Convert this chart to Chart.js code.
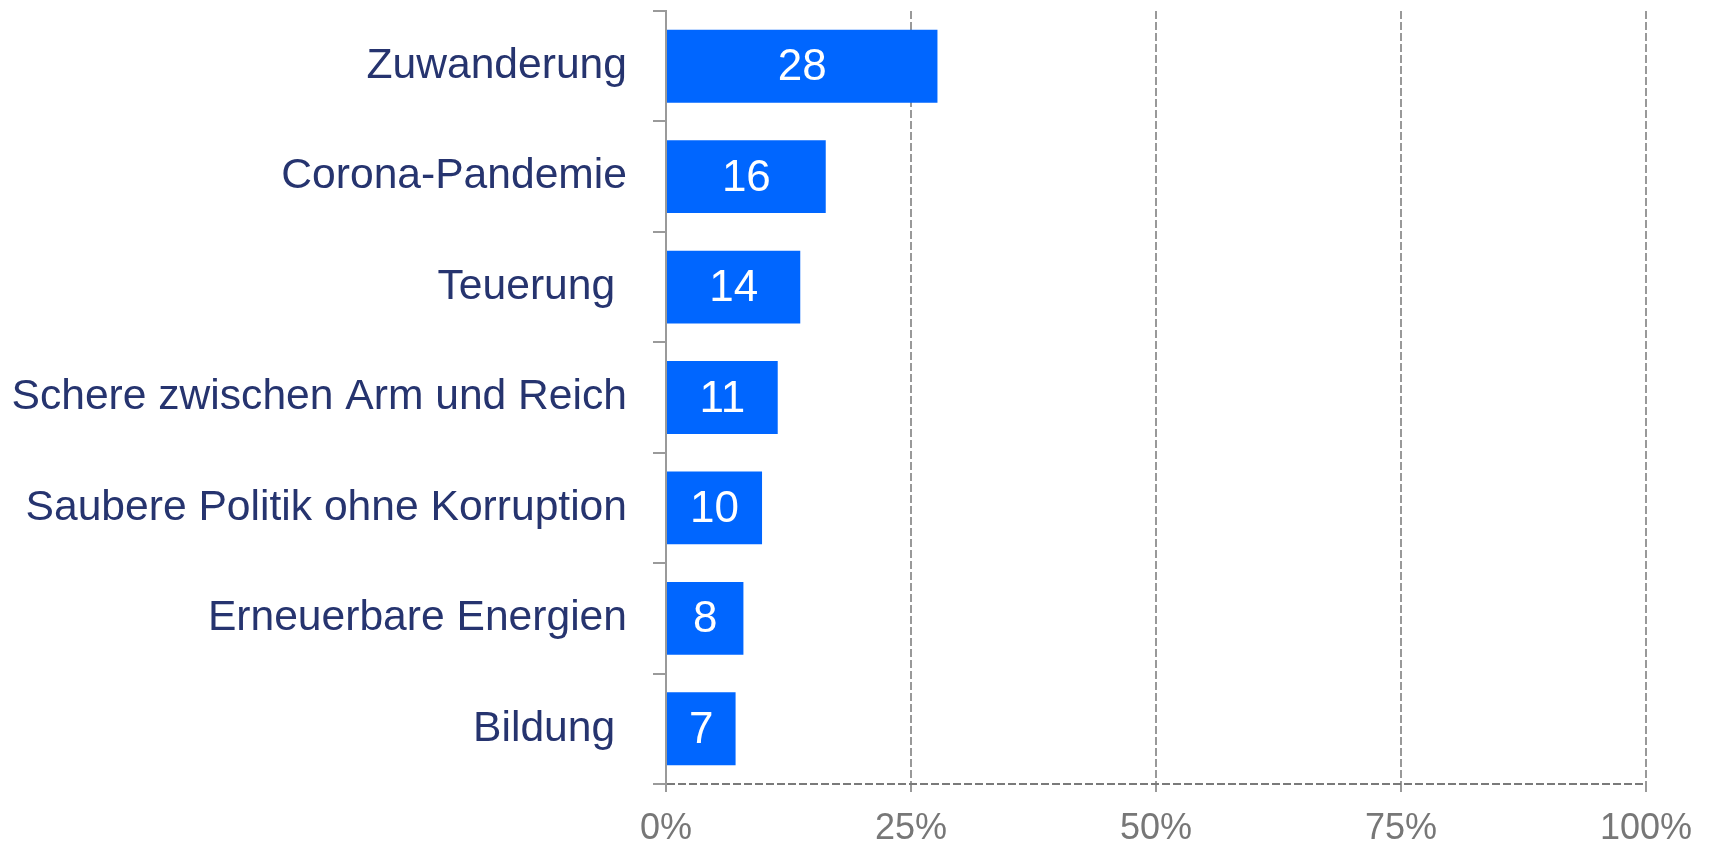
<!DOCTYPE html>
<html>
<head>
<meta charset="utf-8">
<script src="https://cdn.jsdelivr.net/npm/chart.js@4"></script>
<style>
html,body{margin:0;padding:0;background:#fff;}
#wrap{width:1711px;height:843px;position:relative;}
</style>
</head>
<body>
<div id="wrap"><canvas id="c" width="1711" height="843"></canvas></div>
<script>
const categories = ["Zuwanderung","Corona-Pandemie","Teuerung ","Schere zwischen Arm und Reich","Saubere Politik ohne Korruption","Erneuerbare Energien","Bildung "];
const values = [27.7, 16.3, 13.7, 11.4, 9.8, 7.9, 7.1];
const xTicks = [0, 25, 50, 75, 100];

const FONT = "'Liberation Sans', Arial, sans-serif";

const valueLabels = {
  id: 'valueLabels',
  afterDatasetsDraw(chart) {
    const ctx = chart.ctx;
    const meta = chart.getDatasetMeta(0);
    ctx.save();
    ctx.fillStyle = '#ffffff';
    ctx.font = '44px ' + FONT;
    ctx.textAlign = 'center';
    ctx.textBaseline = 'middle';
    meta.data.forEach((bar, i) => {
      const cx = (bar.x + bar.base) / 2;
      ctx.fillText(String(Math.round(values[i])), cx, bar.y + 2);
    });
    ctx.restore();
  }
};

new Chart(document.getElementById('c'), {
  type: 'bar',
  data: {
    labels: categories,
    datasets: [{
      data: values,
      backgroundColor: '#0066FF',
      borderWidth: 0,
      categoryPercentage: 1,
      barPercentage: 0.66
    }]
  },
  options: {
    indexAxis: 'y',
    responsive: false,
    animation: false,
    devicePixelRatio: 1,
    layout: { padding: { top: 11, right: 65, left: 0, bottom: 0 } },
    plugins: { legend: { display: false }, tooltip: { enabled: false } },
    scales: {
      x: {
        min: 0, max: 100,
        afterBuildTicks(scale) { scale.ticks = xTicks.map(v => ({ value: v })); },
        afterFit(scale) { scale.height = 59; scale.paddingLeft = 0; scale.paddingRight = 0; },
        ticks: {
          callback: v => v + '%',
          color: '#777777',
          font: { family: FONT, size: 36 },
          padding: 12,
          maxRotation: 0
        },
        grid: {
          color: '#999999',
          lineWidth: 2,
          tickLength: 11,
          tickBorderDash: [8, 3],
          drawTicks: true
        },
        border: { display: false, dash: [8, 3] }
      },
      y: {
        afterFit(scale) { scale.width = 666; scale.paddingTop = 0; scale.paddingBottom = 0; },
        ticks: {
          color: '#26346f',
          font: { family: FONT, size: 42.6 },
          padding: 26
        },
        grid: {
          drawOnChartArea: true,
          drawTicks: true,
          tickLength: 13,
          color: c => (c.type === 'tick' ? 'rgba(0,0,0,0)' : '#7a7a7a'),
          tickColor: '#9a9a9a',
          tickBorderDash: [],
          lineWidth: 2
        },
        border: { display: true, color: '#9a9a9a', width: 2, dash: [8, 3] }
      }
    }
  },
  plugins: [valueLabels]
});
</script>
</body>
</html>
